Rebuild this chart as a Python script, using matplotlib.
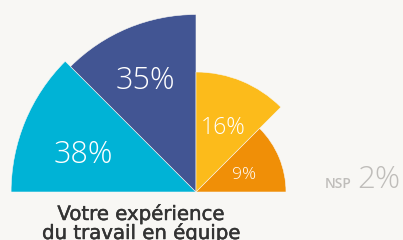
import numpy as np
import matplotlib
matplotlib.use("Agg")
import matplotlib.pyplot as plt
import matplotlib.patheffects as pe
from matplotlib.patches import Wedge

# Data
labels = ["38%", "35%", "16%", "9%"]
values = [38, 35, 16, 9]
colors = ["#00B3D6", "#425593", "#FCBB1B", "#F08F07"]
nsp_value = 2
title_lines = ["Votre expérience", "du travail en équipe"]

bg = "#F8F7F4"
fig = plt.figure(figsize=(4.03, 2.40), dpi=100, facecolor=bg)
ax = fig.add_axes([0, 0, 1, 1])
ax.set_facecolor(bg)
ax.set_xlim(0, 403)
ax.set_ylim(0, 240)
ax.set_aspect("equal")
ax.axis("off")

center = (196, 48)
k = 30.0  # radius scale: area proportional to value
n = len(values)
span = 180.0 / n
label_sizes = [22, 22, 16.5, 12.5]
label_frac = [0.64, 0.69, 0.58, 0.57]
label_shift = [4.5, 2.0, -0.5, -3.5]
numfont = ["Open Sans", "DejaVu Sans"]

for i, (v, c, lab) in enumerate(zip(values, colors, labels)):
    t2 = 180 - i * span
    t1 = t2 - span
    r = k * np.sqrt(v)
    ax.add_patch(Wedge(center, r, t1, t2, facecolor=c, edgecolor=bg, linewidth=0.4))
    mid = np.deg2rad((t1 + t2) / 2 + label_shift[i])
    rr = r * label_frac[i]
    ax.text(center[0] + rr * np.cos(mid), center[1] + rr * np.sin(mid), lab,
            color="white", fontsize=label_sizes[i], family=numfont,
            fontweight="light", ha="center", va="center")

ax.text(352, 52, "NSP", color="#BFBDBA", fontsize=10, fontweight="semibold",
        family=numfont, ha="right", va="baseline")
ax.text(357, 52, f"{nsp_value}%", color="#BFBDBA", fontsize=22.5, fontweight="light",
        family=numfont, ha="left", va="baseline")

for j, line in enumerate(title_lines):
    ax.text(141, 20 - 19 * j, line, color="#333333", fontsize=14.2, fontweight="normal",
            family=["DejaVu Sans"], ha="center", va="baseline",
            path_effects=[pe.withStroke(linewidth=0.35, foreground="#333333")])

fig.savefig("out.png", dpi=100, facecolor=bg)
